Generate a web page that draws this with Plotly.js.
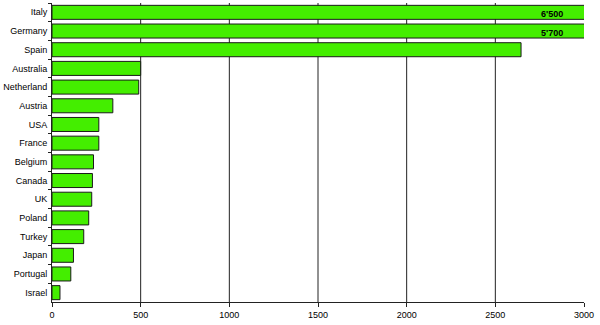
<!DOCTYPE html>
<html>
<head>
<meta charset="utf-8">
<script src="https://cdn.plot.ly/plotly-3.0.1.min.js"></script>
<style>html,body{margin:0;padding:0;background:#fff;}#chart{width:600px;height:325px;}</style>
</head>
<body>
<div id="chart"></div>
<script>
var countries = ["Italy","Germany","Spain","Australia","Netherland","Austria","USA","France","Belgium","Canada","UK","Poland","Turkey","Japan","Portugal","Israel"];
var values = [6500,5700,2645,500,489,343,264,264,234,228,224,207,179,121,106,45];
var valueLabels = ["6'500","5'700"];
var xTicks = [0,500,1000,1500,2000,2500,3000];
var gridVals = [500,1000,1500,2000,2500];

var trace = {
  type: "bar",
  orientation: "h",
  x: values,
  y: countries,
  marker: {color: "#44ee00", line: {color: "#1a1a1a", width: 1}},
  hoverinfo: "none"
};

var annotations = valueLabels.map(function(t, i){
  return {x: 3000, y: countries[i], xref: "x", yref: "y", text: "<b>" + t + "</b>",
    showarrow: false, xanchor: "right", xshift: -19, yshift: -2,
    font: {family: "Liberation Sans, Arial, sans-serif", size: 9, color: "#000"}};
});

var gridShapes = gridVals.map(function(v){
  return {type: "line", xref: "x", yref: "paper", x0: v, x1: v, y0: 0, y1: 1,
    layer: "below", line: {color: "#222", width: 1}};
});

var layout = {
  width: 600, height: 325,
  margin: {l: 52, r: 16, t: 3, b: 22.5, pad: 0},
  paper_bgcolor: "#fff", plot_bgcolor: "#fff",
  showlegend: false,
  bargap: 0.25,
  font: {family: "Liberation Sans, Arial, sans-serif", size: 9, color: "#000"},
  xaxis: {
    range: [0, 3000], tickmode: "array", tickvals: xTicks, ticktext: xTicks.map(String),
    showgrid: false, zeroline: false,
    showline: true, linecolor: "#222", linewidth: 1,
    ticks: "outside", ticklen: 4, tickcolor: "#222",
    tickfont: {size: 9}, fixedrange: true
  },
  yaxis: {
    autorange: "reversed", type: "category",
    showgrid: false, zeroline: false,
    showline: true, linecolor: "#222", linewidth: 1,
    ticks: "outside", ticklen: 3, tickcolor: "#222", tickson: "boundaries",
    ticklabelstandoff: 2,
    tickfont: {size: 9}, fixedrange: true
  },
  shapes: gridShapes,
  annotations: annotations
};

Plotly.newPlot("chart", [trace], layout, {displayModeBar: false, staticPlot: true});
</script>
</body>
</html>
